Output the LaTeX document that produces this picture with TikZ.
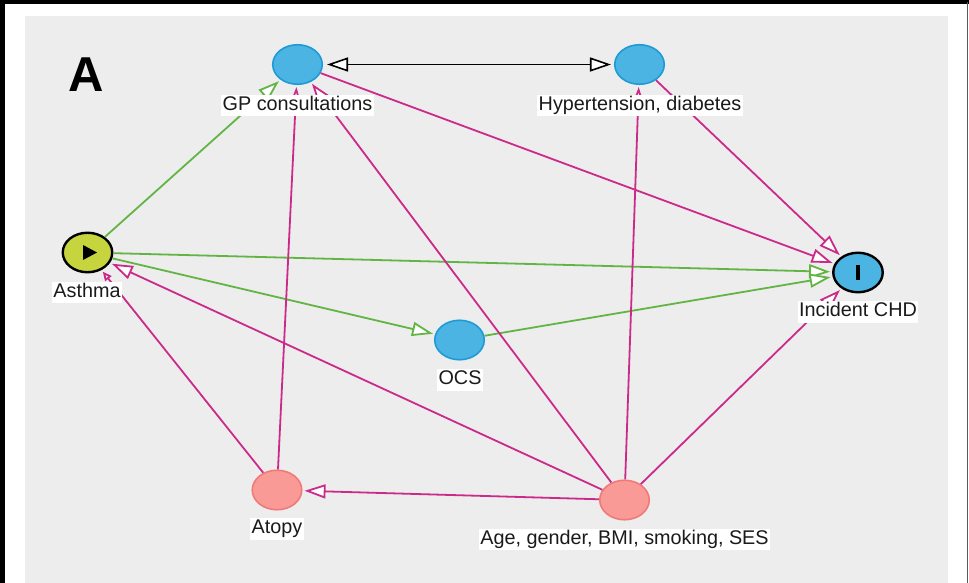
\documentclass[tikz,border=0pt]{standalone}
\usepackage{fontspec}
\setmainfont{Liberation Sans}
\usetikzlibrary{arrows.meta,shapes.geometric}
\definecolor{bg}{HTML}{EDEDED}
\definecolor{nblue}{HTML}{4BB4E3}
\definecolor{nblueb}{HTML}{1E9AD6}
\definecolor{npink}{HTML}{F99A96}
\definecolor{npinkb}{HTML}{F07A78}
\definecolor{nyel}{HTML}{C6D43E}
\definecolor{egreen}{HTML}{62B544}
\definecolor{epink}{HTML}{CC2A8A}
\definecolor{lbl}{HTML}{1A1A1A}
\begin{document}
\begin{tikzpicture}[x=1pt,y=-1pt,
 var/.style={ellipse, inner sep=0pt, minimum width=49.5pt, minimum height=39.5pt},
 bluev/.style={var, fill=nblue, draw=nblueb, line width=1.6pt},
 pinkv/.style={var, fill=npink, draw=npinkb, line width=1.6pt},
 blackv/.style={var, draw=black, line width=2.4pt},
 lab/.style={fill=white, text=lbl, font=\fontsize{19.8}{20}\selectfont, inner xsep=1.5pt, inner ysep=1.5pt, text height=14pt, text depth=4.5pt},
 bigtip/.style={-{Triangle[length=21pt,width=14pt,fill=white]}, shorten >=2pt},
 smalltip/.style={-{Triangle[length=9pt,width=8pt,fill=white]}, shorten >=2pt},
 causal/.style={draw=egreen, line width=1.8pt},
 bias/.style={draw=epink, line width=1.8pt},
]
\useasboundingbox (0,0) rectangle (969,583);
\fill[white] (0,0) rectangle (969,583);
\fill[bg] (25,16) rectangle (948,583);
\draw[line width=4.5pt] (2.25,583) -- (2.25,2.25) -- (969,2.25);
\draw[line width=1.2pt, black!65] (967.4,2) -- (967.4,583);

\node[font=\fontsize{49}{49}\selectfont\bfseries, anchor=base, inner sep=0pt] (A) at (86,92) {A};

% variables
\node[bluev] (gp) at (297.5,64.5) {};
\node[bluev] (hyp) at (639.5,64.5) {};
\node[blackv, fill=nyel] (asth) at (87.5,252.5) {};
\node[blackv, fill=nblue] (chd) at (858,272.5) {};
\node[bluev] (ocs) at (459.5,340) {};
\node[pinkv] (atopy) at (277,490) {};
\node[pinkv] (age) at (624.5,500) {};

\fill (asth.center) ++(-4.5,-7.5) -- ++(0,15) -- ++(14,-7.5) -- cycle;
\fill (chd.center) ++(-2,-7.5) rectangle ++(4,15);

% causal edges
\draw[causal, bigtip] (asth) -- (gp);
\draw[causal, bigtip] (asth) -- (chd);
\draw[causal, bigtip] (asth) -- (ocs);
\draw[causal, bigtip] (ocs) -- (chd);

% biasing edges
\draw[bias, bigtip] (gp) -- (chd);
\draw[bias, bigtip] (hyp) -- (chd);
\draw[bias, bigtip] (age) -- (chd);
\draw[bias, bigtip] (age) -- (atopy);
\draw[bias, bigtip] (age) -- (asth);
\draw[bias, bigtip] (age) -- (gp);
\draw[bias, bigtip] (age) -- (hyp);
\draw[bias, bigtip] (atopy) -- (gp);
\draw[bias, smalltip] (atopy) -- (asth);

% bidirected edge
\draw[line width=1.6pt, {Triangle[length=21pt,width=14pt,fill=white]}-{Triangle[length=21pt,width=14pt,fill=white]}, shorten <=4pt, shorten >=3pt] (gp) -- (hyp);

% labels
\node[lab] (gpL) at (297.5,105.5) {GP consultations};
\node[lab] (hypL) at (640,105.5) {Hypertension, diabetes};
\node[lab] (asthL) at (87,292.5) {Asthma};
\node[lab] (chdL) at (858,312) {Incident CHD};
\node[lab] (ocsL) at (460,380) {OCS};
\node[lab] (atopyL) at (277,529) {Atopy};
\node[lab] (ageL) at (624.5,539.5) {Age, gender, BMI, smoking, SES};
\end{tikzpicture}
\end{document}
